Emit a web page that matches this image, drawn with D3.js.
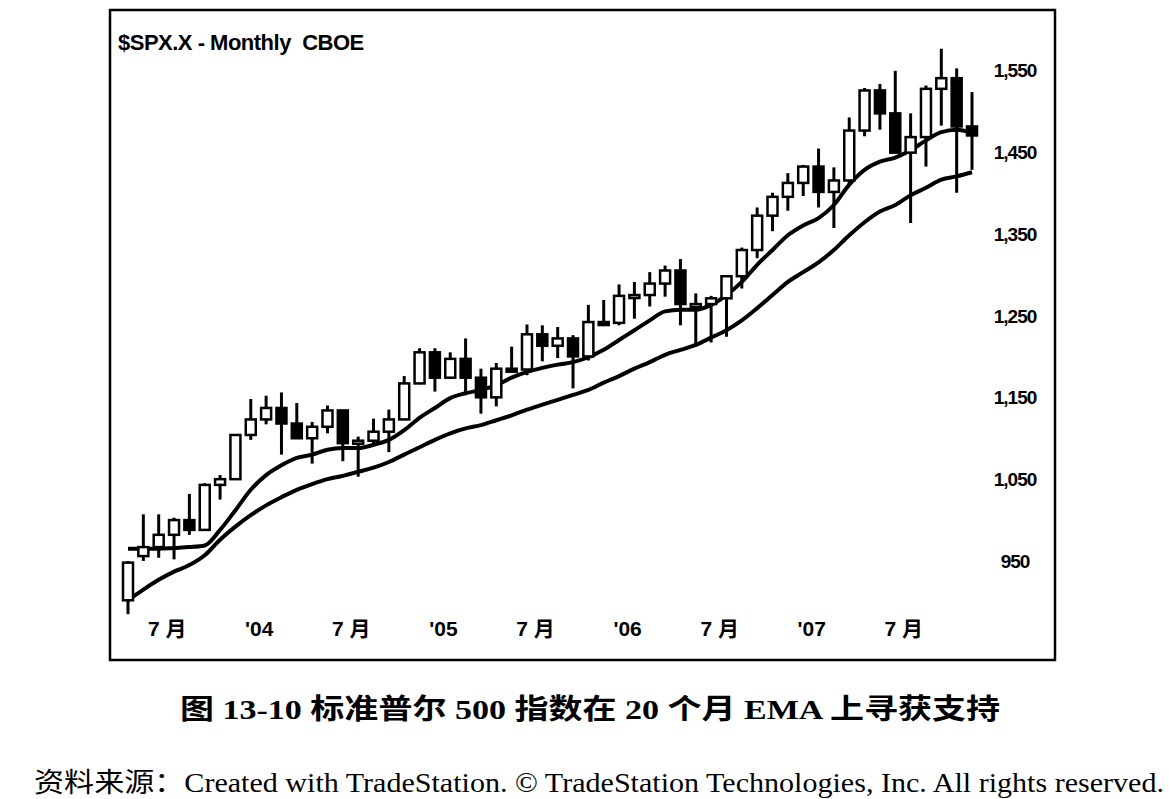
<!DOCTYPE html>
<html><head><meta charset="utf-8">
<script src="https://cdn.jsdelivr.net/npm/d3@7"></script>
<style>body{margin:0;background:#fff}</style></head>
<body><svg id="c" width="1169" height="799"></svg>
<script>
const months = ["2003-05","2003-06","2003-07","2003-08","2003-09","2003-10","2003-11","2003-12",
"2004-01","2004-02","2004-03","2004-04","2004-05","2004-06","2004-07","2004-08","2004-09","2004-10","2004-11","2004-12",
"2005-01","2005-02","2005-03","2005-04","2005-05","2005-06","2005-07","2005-08","2005-09","2005-10","2005-11","2005-12",
"2006-01","2006-02","2006-03","2006-04","2006-05","2006-06","2006-07","2006-08","2006-09","2006-10","2006-11","2006-12",
"2007-01","2007-02","2007-03","2007-04","2007-05","2007-06","2007-07","2007-08","2007-09","2007-10","2007-11","2007-12"];
const opens = [902,956,967,982,1000,988,1043,1050,1104,1123,1137,1118,1100,1114,1134,1094,1097,1108,1123,1167,1205,1174,1197,1174,1150,1185,1184,1227,1213,1222,1200,1242,1241,1274,1275,1289,1305,1264,1264,1271,1298,1330,1372,1395,1412,1432,1401,1415,1476,1525,1497,1449,1468,1527,1540,1481];
const highs = [950,1007,1007,1003,1032,1045,1055,1104,1148,1152,1156,1143,1120,1140,1134,1102,1124,1135,1176,1210,1210,1205,1222,1185,1192,1212,1239,1238,1236,1226,1263,1269,1288,1291,1303,1311,1319,1277,1274,1299,1333,1382,1400,1424,1434,1454,1431,1492,1528,1533,1549,1497,1531,1576,1552,1523];
const lows = [885,950,954,952,982,988,1025,1050,1098,1117,1080,1100,1069,1106,1072,1053,1094,1083,1123,1166,1157,1173,1156,1130,1139,1181,1177,1194,1198,1161,1195,1239,1238,1246,1261,1273,1238,1212,1217,1224,1283,1320,1353,1378,1396,1382,1357,1409,1469,1477,1448,1363,1432,1482,1400,1428];
const closes = [948,967,982,1000,988,1043,1050,1104,1123,1137,1118,1100,1114,1134,1094,1097,1108,1123,1167,1205,1174,1197,1174,1150,1185,1184,1227,1213,1222,1200,1242,1241,1274,1275,1289,1305,1264,1264,1271,1298,1330,1372,1395,1412,1432,1401,1415,1476,1525,1497,1449,1468,1527,1540,1481,1470];
const emaFast = [965,965,965,966,967,969,988,1012,1037,1055,1067,1076,1080,1086,1088,1088,1092,1098,1110,1125,1137,1149,1155,1159,1165,1174,1181,1186,1190,1193,1199,1208,1220,1232,1244,1255,1257,1257,1263,1275,1291,1312,1330,1348,1360,1369,1385,1410,1428,1438,1443,1452,1464,1474,1477,1473];
const emaSlow = [902,915,927,937,945,957,976,992,1006,1018,1028,1037,1044,1050,1054,1059,1064,1071,1080,1089,1098,1106,1112,1116,1122,1128,1135,1141,1147,1153,1159,1168,1176,1185,1193,1202,1208,1214,1223,1232,1244,1259,1275,1291,1303,1315,1330,1348,1364,1377,1385,1397,1406,1416,1420,1425];
const yTicks = [950,1050,1150,1250,1350,1450,1550];
const xTicks = ["2003-07","2004-01","2004-07","2005-01","2005-07","2006-01","2006-07","2007-01","2007-07"];
const xTickLabels = ["7 月","'04","7 月","'05","7 月","'06","7 月","'07","7 月"];

const svg = d3.select("#c");
const x = d3.scalePoint().domain(months).range([128, 972]);
const y = d3.scaleLinear().domain([950,1550]).range([561,70]);

svg.append("rect").attr("x",110).attr("y",10).attr("width",945).attr("height",650)
  .attr("fill","#fff").attr("stroke","#000").attr("stroke-width",2.5);

svg.append("text").attr("x",118).attr("y",50).attr("xml:space","preserve").text("$SPX.X - Monthly\u00a0\u00a0CBOE")
  .attr("font-family","Liberation Sans, Arial").attr("font-weight","bold").attr("font-size",22).attr("letter-spacing",-0.5);

const fmt = d3.format(",");
const yAxis = svg.append("g").attr("transform","translate(1012,0)")
  .call(d3.axisRight(y).tickValues(yTicks).tickSize(0).tickFormat(d=>d===950?"950":fmt(d)));
yAxis.select(".domain").remove();
yAxis.selectAll("text").attr("text-anchor","middle").attr("x",3).attr("dy","0.35em")
  .attr("font-family","Liberation Sans, Arial").attr("font-weight","bold").attr("font-size",19).attr("letter-spacing",-1);

const xAxis = svg.append("g").attr("transform","translate(8,620)")
  .call(d3.axisBottom(x).tickValues(xTicks).tickSize(0).tickFormat((d,i)=>xTickLabels[i]));
xAxis.select(".domain").remove();
xAxis.selectAll("text").attr("dy","0.6em")
  .attr("font-family","Liberation Sans, Noto Sans CJK SC, Arial").attr("font-weight","bold").attr("font-size",21);

const line = d3.line().x((d,i)=>x(months[i])).y(d=>y(d)).curve(d3.curveMonotoneX);
svg.append("path").datum(emaSlow).attr("d",line).attr("fill","none").attr("stroke","#000").attr("stroke-width",4);
svg.append("path").datum(emaFast).attr("d",line).attr("fill","none").attr("stroke","#000").attr("stroke-width",4);

const g = svg.append("g");
months.forEach((m,i)=>{
  const cx = x(m), o=opens[i], c=closes[i];
  g.append("line").attr("x1",cx).attr("x2",cx).attr("y1",y(highs[i])).attr("y2",y(lows[i]))
    .attr("stroke","#000").attr("stroke-width",3);
  const top = y(Math.max(o,c)), bot = y(Math.min(o,c));
  g.append("rect").attr("x",cx-5).attr("y",top).attr("width",10).attr("height",Math.max(bot-top,3))
    .attr("fill",c>=o?"#fff":"#000").attr("stroke","#000").attr("stroke-width",2.5);
});

svg.append("text").attr("x",180).attr("y",719).attr("textLength",820).attr("lengthAdjust","spacingAndGlyphs")
  .attr("font-family","Liberation Serif, Noto Sans CJK SC, serif").attr("font-size",28).attr("font-weight","bold")
  .text("图 13-10   标准普尔 500 指数在 20 个月 EMA 上寻获支持");
svg.append("text").attr("x",34).attr("y",792).attr("textLength",1130).attr("lengthAdjust","spacingAndGlyphs")
  .attr("font-family","Liberation Serif, Noto Sans CJK SC, serif").attr("font-size",27)
  .text("资料来源：Created with TradeStation. © TradeStation Technologies, Inc. All rights reserved.");
</script></body></html>
